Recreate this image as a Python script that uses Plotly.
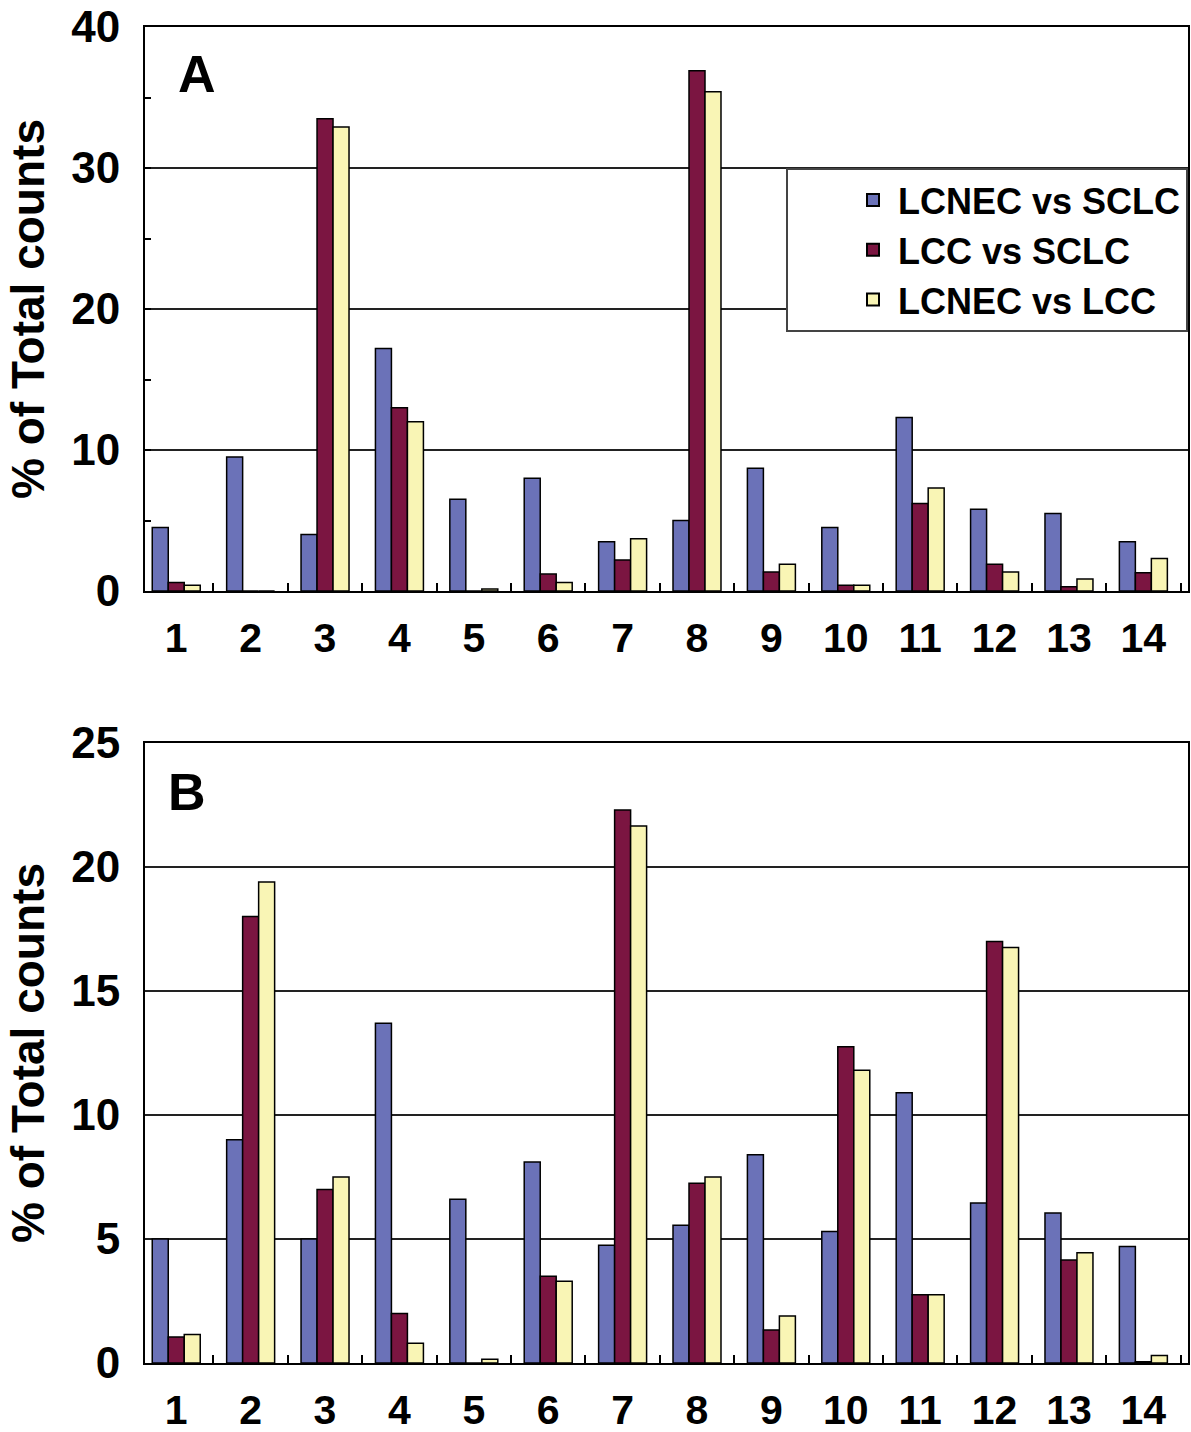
import plotly.graph_objects as go

categories = [str(i) for i in range(1, 15)]
series_names = ["LCNEC vs SCLC", "LCC vs SCLC", "LCNEC vs LCC"]
colors = ["#6B72B8", "#7B1541", "#F9F5B5"]

# Panel A values (% of total counts)
a_lcnec_sclc = [4.5, 9.5, 4.0, 17.2, 6.5, 8.0, 3.5, 5.0, 8.7, 4.5, 12.3, 5.8, 5.5, 3.5]
a_lcc_sclc = [0.6, 0.0, 33.5, 13.0, 0.0, 1.2, 2.2, 36.9, 1.35, 0.4, 6.2, 1.9, 0.3, 1.3]
a_lcnec_lcc = [0.4, 0.0, 32.9, 12.0, 0.15, 0.6, 3.7, 35.4, 1.9, 0.4, 7.3, 1.35, 0.85, 2.3]

# Panel B values (% of total counts)
b_lcnec_sclc = [5.0, 9.0, 5.0, 13.7, 6.6, 8.1, 4.75, 5.55, 8.4, 5.3, 10.9, 6.45, 6.05, 4.7]
b_lcc_sclc = [1.05, 18.0, 7.0, 2.0, 0.0, 3.5, 22.3, 7.25, 1.33, 12.75, 2.75, 17.0, 4.15, 0.05]
b_lcnec_lcc = [1.15, 19.4, 7.5, 0.8, 0.15, 3.3, 21.65, 7.5, 1.9, 11.8, 2.75, 16.75, 4.45, 0.3]

panel_a = [a_lcnec_sclc, a_lcc_sclc, a_lcnec_lcc]
panel_b = [b_lcnec_sclc, b_lcc_sclc, b_lcnec_lcc]

FONT = "Liberation Sans, Arial, sans-serif"

fig = go.Figure()
for name, vals, col in zip(series_names, panel_a, colors):
    fig.add_trace(go.Bar(x=categories, y=vals, name=name, marker_color=col,
                         marker_line=dict(color="black", width=1.5),
                         xaxis="x", yaxis="y", showlegend=True))
for name, vals, col in zip(series_names, panel_b, colors):
    fig.add_trace(go.Bar(x=categories, y=vals, name=name, marker_color=col,
                         marker_line=dict(color="black", width=1.5),
                         xaxis="x2", yaxis="y2", showlegend=False))

W, H = 1191, 1432
ml, mr, mt, mb = 145, 3, 27, 69
ph = H - mt - mb
a_bottom = (1363 - 591) / ph
b_top = (1363 - 743) / ph

xcommon = dict(type="category", range=[-0.42, 13.6], showline=True, linecolor="black",
               linewidth=2, mirror=True, ticks="inside", tickson="boundaries", ticklen=8,
               tickcolor="black", tickwidth=2,
               tickfont=dict(family=FONT, size=41, color="black", weight="bold"),
               ticklabelstandoff=10, showgrid=False, automargin=False)
ycommon = dict(showline=True, linecolor="black", linewidth=2, mirror=True,
               tickcolor="black", tickwidth=1.5,
               showgrid=True, gridcolor="#222222", gridwidth=2,
               tickfont=dict(family=FONT, size=44, color="black", weight="bold"),
               ticklabelstandoff=14, zeroline=False, automargin=False,
               title=dict(text="% of Total counts",
                          font=dict(family=FONT, size=46, color="black", weight="bold"),
                          standoff=12))

fig.update_layout(
    width=W, height=H,
    margin=dict(l=ml, r=mr, t=mt, b=mb),
    paper_bgcolor="white", plot_bgcolor="white",
    barmode="group", bargap=0.355, bargroupgap=0.0,
    xaxis=dict(domain=[0, 1], anchor="y", **xcommon),
    yaxis=dict(domain=[a_bottom, 1.0], anchor="x", range=[0, 40], dtick=10,
               ticks="inside", ticklen=6,
               minor=dict(dtick=5, ticks="inside", ticklen=6, tickcolor="black", showgrid=False),
               **ycommon),
    xaxis2=dict(domain=[0, 1], anchor="y2", **xcommon),
    yaxis2=dict(domain=[0, b_top], anchor="x2", range=[0, 25], dtick=5, ticks="",
                **ycommon),
    legend=dict(x=1.0, xanchor="right", y=(1363 - 168) / ph, yanchor="top",
                bgcolor="white", bordercolor="#444444", borderwidth=2,
                font=dict(family=FONT, size=36, color="black", weight="bold"),
                itemsizing="constant", tracegroupgap=0, indentation=60, itemwidth=40),
    annotations=[
        dict(text="A", xref="paper", yref="paper", x=0.03, y=(1363 - 74) / ph,
             xanchor="left", yanchor="middle", showarrow=False,
             font=dict(family=FONT, size=52, color="black", weight="bold")),
        dict(text="B", xref="paper", yref="paper", x=0.02, y=(1363 - 792) / ph,
             xanchor="left", yanchor="middle", showarrow=False,
             font=dict(family=FONT, size=52, color="black", weight="bold")),
    ],
)

fig.write_html("out.html", config={"displayModeBar": False},
               post_script="document.body.style.margin='0';document.body.style.overflow='hidden';")
